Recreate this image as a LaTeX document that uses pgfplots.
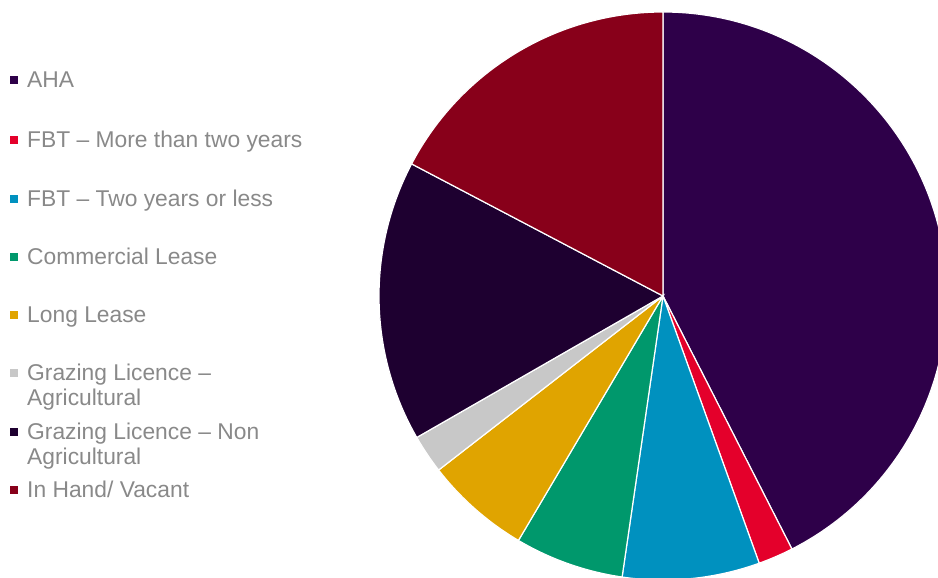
\documentclass[border=0pt]{standalone}
\usepackage{pgfplots}
\pgfplotsset{compat=1.18}
\usepackage{pgfplotstable}
\usepackage{fontspec}
\setmainfont{Liberation Sans}
\definecolor{pc0}{RGB}{46,0,73}
\definecolor{pc1}{RGB}{228,0,43}
\definecolor{pc2}{RGB}{0,145,191}
\definecolor{pc3}{RGB}{0,152,108}
\definecolor{pc4}{RGB}{224,164,0}
\definecolor{pc5}{RGB}{200,200,200}
\definecolor{pc6}{RGB}{30,0,48}
\definecolor{pc7}{RGB}{136,0,26}
\definecolor{legtext}{RGB}{137,137,137}
\pgfplotstableread{
label pct
AHA 42.5
FBTmore 2.0
FBTless 7.8
Commercial 6.2
Long 6.0
GrazAg 2.2
GrazNon 16.0
InHand 17.3
}\piedata
\begin{document}
\begin{tikzpicture}
\begin{axis}[scale only axis, width=938bp, height=578bp,
  xmin=0, xmax=938, ymin=0, ymax=578, hide axis, clip=true]
\gdef\startang{90}
\pgfplotsforeachungrouped \i in {0,...,7}{%
  \pgfplotstablegetelem{\i}{pct}\of\piedata
  \pgfmathsetmacro{\endang}{\startang - 3.6*\pgfplotsretval}%
  \edef\temp{\noexpand\fill[pc\i, draw=white, line width=1.2bp] (axis cs:663,282) -- ([shift={(\startang:284bp)}]axis cs:663,282) arc[start angle=\startang, end angle=\endang, radius=284bp] -- cycle;}%
  \temp
  \xdef\startang{\endang}%
}
% legend
\def\legitem#1#2#3{%
  \fill[#1] (axis cs:9.5,{578-#2-4}) rectangle (axis cs:17.5,{578-#2+4});
  \node[anchor=base west, inner sep=0pt, text=legtext, font=\fontsize{22.9}{25}\selectfont] at (axis cs:27,{578-#2-8}) {#3};}
\legitem{pc0}{80}{AHA}
\legitem{pc1}{140}{FBT – More than two years}
\legitem{pc2}{199}{FBT – Two years or less}
\legitem{pc3}{257}{Commercial Lease}
\legitem{pc4}{315}{Long Lease}
\legitem{pc5}{373}{Grazing Licence –}
\node[anchor=base west, inner sep=0pt, text=legtext, font=\fontsize{22.9}{25}\selectfont] at (axis cs:27,{578-398-8}) {Agricultural};
\legitem{pc6}{432}{Grazing Licence – Non}
\node[anchor=base west, inner sep=0pt, text=legtext, font=\fontsize{22.9}{25}\selectfont] at (axis cs:27,{578-457-8}) {Agricultural};
\legitem{pc7}{490}{In Hand/ Vacant}
\end{axis}
\pgfresetboundingbox
\useasboundingbox (0,0) rectangle (938bp,578bp);
\end{tikzpicture}
\end{document}
